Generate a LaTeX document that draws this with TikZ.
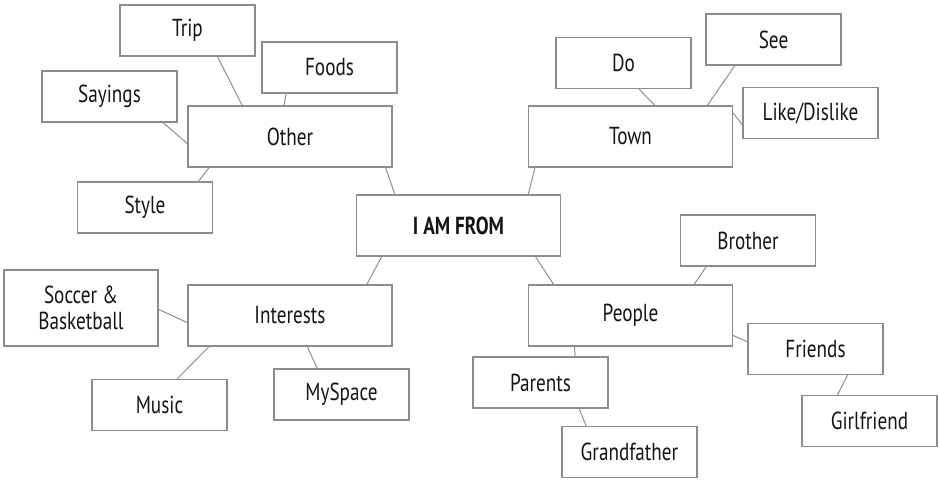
\documentclass[tikz,border=0pt]{standalone}
\usepackage{fontspec}
\setmainfont{PT Sans}[FakeStretch=0.78]
\usepackage{tikz}

\tikzset{
  topic/.style={draw=black!45, line width=0.6pt, inner sep=0pt, align=center,
    font=\fontsize{14}{15}\selectfont, text=black!92},
  smallbox/.style={topic, minimum width=2.7cm, minimum height=1.02cm},
  bigbox/.style={topic, minimum width=4.08cm, minimum height=1.22cm},
  link/.style={draw=black!45, line width=0.55pt}
}

\begin{document}
\begin{tikzpicture}
		\useasboundingbox (0,0) rectangle (18.78,9.6);
		% centre
		\node[bigbox, font=\fontsize{14}{15}\selectfont\bfseries] (iam) at (9.17,5.09) {I AM FROM};
		% Other and its boxes
		\node[bigbox] (other) at (5.80,6.87) {Other};
		\node[smallbox] (trip) at (3.75,8.99) {Trip};
		\node[smallbox] (foods) at (6.59,8.25) {Foods};
		\node[smallbox] (sayings) at (2.19,7.67) {Sayings};
		\node[smallbox] (style) at (2.90,5.45) {Style};
		% Town and its boxes
		\node[bigbox] (town) at (12.61,6.87) {Town};
		\node[smallbox] (do) at (12.47,8.34) {Do};
		\node[smallbox] (see) at (15.47,8.81) {See};
		\node[smallbox] (like) at (16.21,7.34) {Like/Dislike};
		% Interests and its boxes
		\node[bigbox] (interests) at (5.80,3.29) {Interests};
		\node[topic, minimum width=3.08cm, minimum height=1.52cm] (soccer) at (1.62,3.44) {Soccer \&\\Basketball};
		\node[smallbox] (music) at (3.19,1.50) {Music};
		\node[smallbox] (myspace) at (6.83,1.71) {MySpace};
		% People and its boxes
		\node[bigbox] (people) at (12.61,3.29) {People};
		\node[smallbox] (brother) at (14.96,4.79) {Brother};
		\node[smallbox] (friends) at (16.31,2.62) {Friends};
		\node[smallbox] (parents) at (10.81,1.95) {Parents};
		\node[smallbox] (grandfather) at (12.59,0.56) {Grandfather};
		\node[smallbox] (girlfriend) at (17.39,1.18) {Girlfriend};
		% lines
		\draw[link] (trip.319) -- (other.147);
		\draw[link] (foods.211) -- (other.101);
		\draw[link] (sayings.334) -- (other.184);
		\draw[link] (other.201) -- (style.26.6);
		\draw[link] (other.342) -- (iam.154);
		\draw[link] (do.301) -- (town.52.4);
		\draw[link] (see.214) -- (town.22.5);
		\draw[link] (town.13) -- (like.190);
		\draw[link] (town.198) -- (iam.24);
		\draw[link] (iam.202) -- (interests.22.7);
		\draw[link] (soccer.359) -- (interests.184);
		\draw[link] (interests.201) -- (music.56);
		\draw[link] (interests.299) -- (myspace.133.9);
		\draw[link] (iam.338) -- (people.158.5);
		\draw[link] (brother.212.5) -- (people.26);
		\draw[link] (people.349) -- (friends.174.9);
		\draw[link] (people.209.4) -- (parents.37.3);
		\draw[link] (parents.326.5) -- (grandfather.149.7);
		\draw[link] (friends.321.3) -- (girlfriend.141.3);
		\end{tikzpicture}
\end{document}
